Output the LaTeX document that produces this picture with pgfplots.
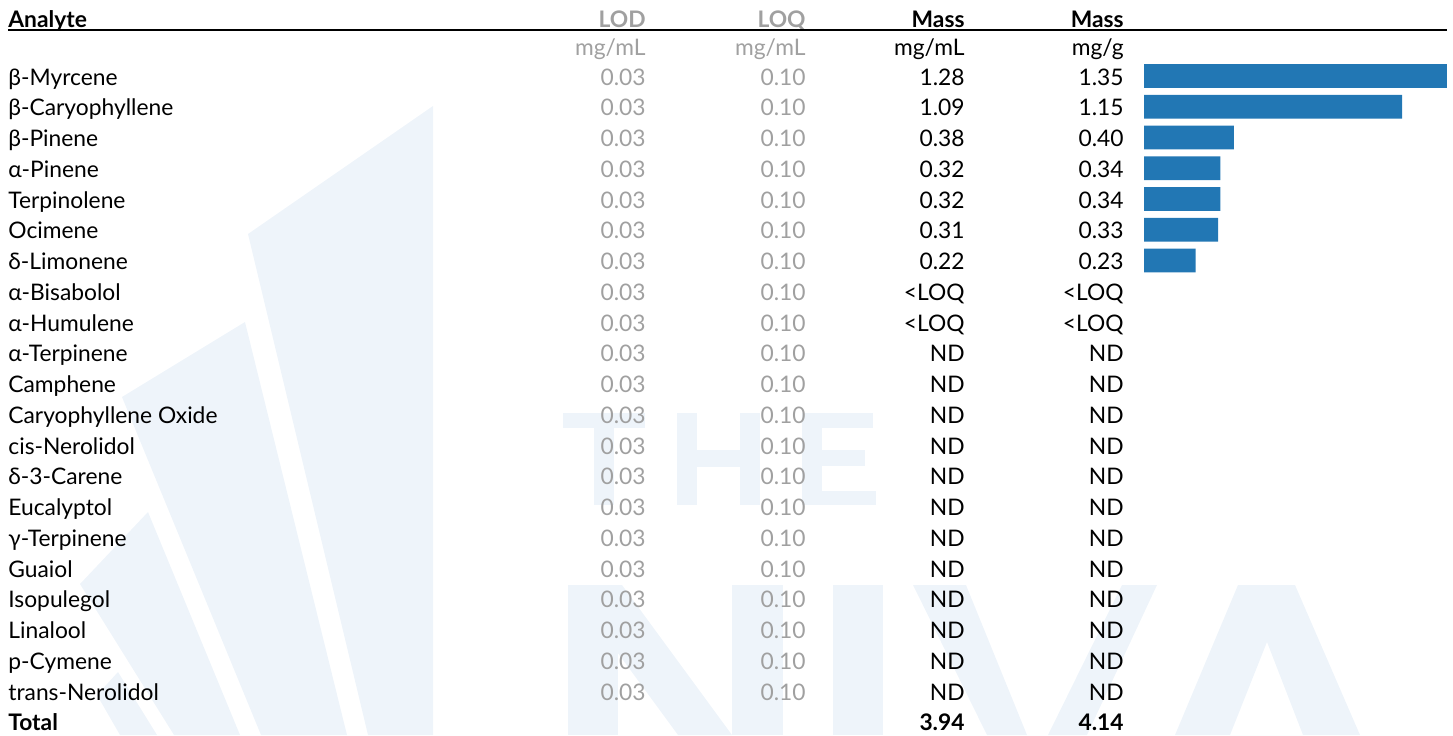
\documentclass[border=0pt]{standalone}
\usepackage{fontspec}
\setmainfont{Lato}
\usepackage{pgfplots}
\usepackage{pgfplotstable}
\pgfplotsset{compat=1.18}
\definecolor{barblue}{RGB}{34,119,180}
\definecolor{wm}{RGB}{238,244,250}
\definecolor{lgray}{RGB}{160,160,160}
\newcommand\fs{\fontsize{11.4pt}{13.5pt}\selectfont}

\pgfplotstableread[col sep=comma]{
r,name,lod,loq,mml,mgg
0,β-Myrcene,0.03,0.10,1.28,1.35
1,β-Caryophyllene,0.03,0.10,1.09,1.15
2,β-Pinene,0.03,0.10,0.38,0.40
3,α-Pinene,0.03,0.10,0.32,0.34
4,Terpinolene,0.03,0.10,0.32,0.34
5,Ocimene,0.03,0.10,0.31,0.33
6,δ-Limonene,0.03,0.10,0.22,0.23
7,α-Bisabolol,0.03,0.10,<LOQ,<LOQ
8,α-Humulene,0.03,0.10,<LOQ,<LOQ
9,α-Terpinene,0.03,0.10,ND,ND
10,Camphene,0.03,0.10,ND,ND
11,Caryophyllene Oxide,0.03,0.10,ND,ND
12,cis-Nerolidol,0.03,0.10,ND,ND
13,δ-3-Carene,0.03,0.10,ND,ND
14,Eucalyptol,0.03,0.10,ND,ND
15,γ-Terpinene,0.03,0.10,ND,ND
16,Guaiol,0.03,0.10,ND,ND
17,Isopulegol,0.03,0.10,ND,ND
18,Linalool,0.03,0.10,ND,ND
19,p-Cymene,0.03,0.10,ND,ND
20,trans-Nerolidol,0.03,0.10,ND,ND
}\analytes

\pgfplotstableread{
r val
0 1.35
1 1.15
2 0.40
3 0.34
4 0.34
5 0.33
6 0.23
}\bars

\begin{document}
\begin{tikzpicture}
\useasboundingbox (0,0) rectangle (726.5pt,367.5pt);
% faint watermark (pixel coordinates, origin top-left)
\begin{scope}[x=0.5pt, y=-0.5pt, yshift=367.5pt]
\fill[wm] (433,106) -- (248,234) -- (368,735) -- (433,735) -- cycle;
\fill[wm] (245,322) -- (122,397) -- (261,735) -- (347,735) -- cycle;
\fill[wm] (148,512) -- (80,584) -- (174,735) -- (240,735) -- cycle;
\fill[wm] (118,672) -- (97,695) -- (120,735) -- (157,735) -- cycle;
% THE
\fill[wm] (563,413) rectangle (645,428);
\fill[wm] (594,413) rectangle (614,505);
\fill[wm] (677,413) rectangle (697,505);
\fill[wm] (740,413) rectangle (760,505);
\fill[wm] (697,450) rectangle (740,467);
\fill[wm] (802,413) rectangle (822,505);
\fill[wm] (802,413) rectangle (873,428);
\fill[wm] (802,450) rectangle (865,466);
\fill[wm] (802,491) rectangle (876,505);
% NIVA
\fill[wm] (568,585) rectangle (618,735);
\fill[wm] (568,585) -- (622,585) -- (732,735) -- (678,735) -- cycle;
\fill[wm] (732,585) rectangle (783,735);
\fill[wm] (833,585) rectangle (883,735);
\fill[wm] (913,585) -- (966,585) -- (1027,735) -- (987,735) -- cycle;
\fill[wm] (1122,585) -- (1157,585) -- (1087,735) -- (1048,735) -- cycle;
\fill[wm, even odd rule] (1238,585) -- (1295,585) -- (1360,735) -- (1175,735) -- cycle
   (1267,642) -- (1303,735) -- (1230,735) -- cycle;
\end{scope}
\begin{axis}[at={(0,0)}, anchor=south west, scale only axis,
  width=726.5pt, height=367.5pt,
  xmin=-5.0980, xmax=1.3770, ymin=-2.4715, ymax=21.431,
  y dir=reverse, hide axis, clip=false]
% bars (mass mg/g)
\addplot[xbar, bar width=0.78, fill=barblue, draw=none] table[x=val, y=r] {\bars};
% table columns
\addplot[draw=none, mark=none, nodes near coords, point meta=explicit symbolic,
  nodes near coords style={anchor=base west, yshift=-4.6pt, font=\fs, text=black, inner sep=0pt}]
  table[x expr=-5.0624, y=r, meta=name] {\analytes};
\addplot[draw=none, mark=none, nodes near coords, point meta=explicit symbolic,
  nodes near coords style={anchor=base east, yshift=-4.6pt, font=\fs, text=lgray, inner sep=0pt}]
  table[x expr=-2.2193, y=r, meta=lod] {\analytes};
\addplot[draw=none, mark=none, nodes near coords, point meta=explicit symbolic,
  nodes near coords style={anchor=base east, yshift=-4.6pt, font=\fs, text=lgray, inner sep=0pt}]
  table[x expr=-1.5062, y=r, meta=loq] {\analytes};
\addplot[draw=none, mark=none, nodes near coords, point meta=explicit symbolic,
  nodes near coords style={anchor=base east, yshift=-4.6pt, font=\fs, text=black, inner sep=0pt}]
  table[x expr=-0.7977, y=r, meta=mml] {\analytes};
\addplot[draw=none, mark=none, nodes near coords, point meta=explicit symbolic,
  nodes near coords style={anchor=base east, yshift=-4.6pt, font=\fs, text=black, inner sep=0pt}]
  table[x expr=-0.0891, y=r, meta=mgg] {\analytes};
% header
\node[anchor=base west, font=\fs\bfseries, inner sep=0pt, yshift=-4.6pt] at (axis cs:-5.0624,-1.886) {Analyte};
\node[anchor=base east, font=\fs\bfseries, text=lgray, inner sep=0pt, yshift=-4.6pt] at (axis cs:-2.2193,-1.886) {LOD};
\node[anchor=base east, font=\fs\bfseries, text=lgray, inner sep=0pt, yshift=-4.6pt] at (axis cs:-1.5062,-1.886) {LOQ};
\node[anchor=base east, font=\fs\bfseries, inner sep=0pt, yshift=-4.6pt] at (axis cs:-0.7977,-1.886) {Mass};
\node[anchor=base east, font=\fs\bfseries, inner sep=0pt, yshift=-4.6pt] at (axis cs:-0.0891,-1.886) {Mass};
\node[anchor=base east, font=\fs, text=lgray, inner sep=0pt, yshift=-4.6pt] at (axis cs:-2.2193,-0.976) {mg/mL};
\node[anchor=base east, font=\fs, text=lgray, inner sep=0pt, yshift=-4.6pt] at (axis cs:-1.5062,-0.976) {mg/mL};
\node[anchor=base east, font=\fs, inner sep=0pt, yshift=-4.6pt] at (axis cs:-0.7977,-0.976) {mg/mL};
\node[anchor=base east, font=\fs, inner sep=0pt, yshift=-4.6pt] at (axis cs:-0.0891,-0.976) {mg/g};
\draw[line width=1pt] (axis cs:-5.0624,-1.496) -- (axis cs:1.3503,-1.496);
% total
\node[anchor=base west, font=\fs\bfseries, inner sep=0pt, yshift=-4.6pt] at (axis cs:-5.0624,21) {Total};
\node[anchor=base east, font=\fs\bfseries, inner sep=0pt, yshift=-4.6pt] at (axis cs:-0.7977,21) {3.94};
\node[anchor=base east, font=\fs\bfseries, inner sep=0pt, yshift=-4.6pt] at (axis cs:-0.0891,21) {4.14};
\end{axis}
\end{tikzpicture}
\end{document}
